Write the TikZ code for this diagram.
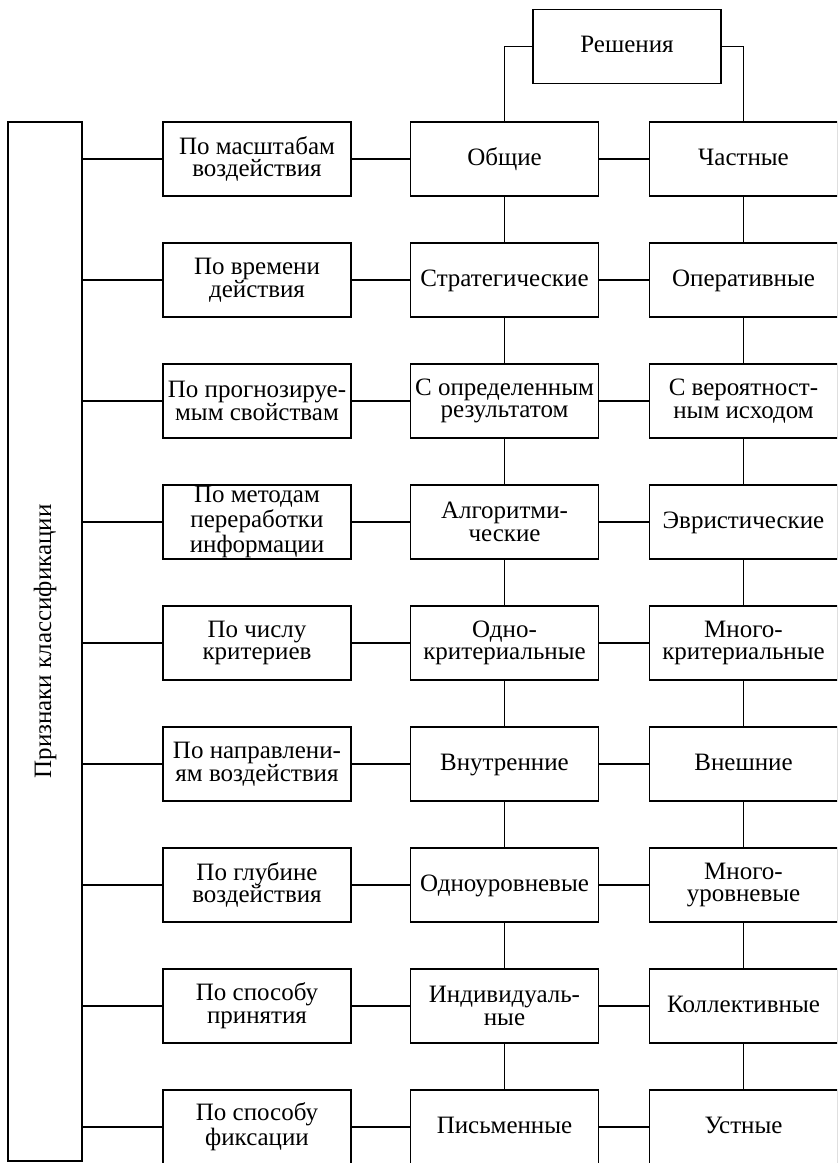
\documentclass[tikz,border=0pt]{standalone}
\usepackage{fontspec}
\setmainfont{Liberation Serif}
\begin{document}
\begin{tikzpicture}[x=0.5pt,y=-0.5pt,
  txt/.style={font=\fontsize{12.5}{11.3}\selectfont},
  box/.style={draw, line width=0.75pt, minimum width=94pt, minimum height=37pt,
    align=center, inner sep=0pt, txt},
  one/.style={box, text height=8.5pt, text depth=2.5pt},
  tight/.style={font=\fontsize{12.5}{10.5}\selectfont},
  link/.style={line width=0.75pt}]
\useasboundingbox (0,0) rectangle (837,1163);
\clip (0,0) rectangle (837,1163);

% side bar with the classification criteria caption
\node[draw, line width=0.75pt, minimum width=37pt, minimum height=519.5pt, inner sep=0pt] (side) at (45,641.5) {};
\node[rotate=90, txt] (sidetext) at (side) {Признаки классификации};

% root
\node[one] (root) at (627,46.5) {Решения};

% column of criteria
\node[box] (a1) at (257,159) {По масштабам\\воздействия};
\node[box] (a2) at (257,280) {По времени\\действия};
\node[box] (a3) at (257,401) {По прогнозируе-\\мым свойствам};
\node[box, tight] (a4) at (257,522) {По методам\\переработки\\информации};
\node[box] (a5) at (257,643) {По числу\\критериев};
\node[box] (a6) at (257,764) {По направлени-\\ям воздействия};
\node[box] (a7) at (257,885) {По глубине\\воздействия};
\node[box] (a8) at (257,1006) {По способу\\принятия};
\node[box] (a9) at (257,1127) {По способу\\фиксации};

% first kind of decision
\node[one] (b1) at (504.5,159) {Общие};
\node[one] (b2) at (504.5,280) {Стратегические};
\node[box] (b3) at (504.5,401) {С определенным\\результатом};
\node[box] (b4) at (504.5,522) {Алгоритми-\\ческие};
\node[box] (b5) at (504.5,643) {Одно-\\критериальные};
\node[one] (b6) at (504.5,764) {Внутренние};
\node[one] (b7) at (504.5,885) {Одноуровневые};
\node[box] (b8) at (504.5,1006) {Индивидуаль-\\ные};
\node[one] (b9) at (504.5,1127) {Письменные};

% second kind of decision
\node[one] (c1) at (743.5,159) {Частные};
\node[one] (c2) at (743.5,280) {Оперативные};
\node[box] (c3) at (743.5,401) {С вероятност-\\ным исходом};
\node[one] (c4) at (743.5,522) {Эвристические};
\node[box] (c5) at (743.5,643) {Много-\\критериальные};
\node[one] (c6) at (743.5,764) {Внешние};
\node[box] (c7) at (743.5,885) {Много-\\уровневые};
\node[one] (c8) at (743.5,1006) {Коллективные};
\node[one] (c9) at (743.5,1127) {Устные};

% connectors
\draw[link] (root.west) -| (b1.north);
\draw[link] (root.east) -| (c1.north);
\foreach \i in {1,...,9} {
  \draw[link] (side.east |- a\i) -- (a\i.west);
  \draw[link] (a\i.east) -- (b\i.west);
  \draw[link] (b\i.east) -- (c\i.west);
}
\foreach \i [evaluate=\i as \j using int(\i+1)] in {1,...,8} {
  \draw[link] (b\i.south) -- (b\j.north);
  \draw[link] (c\i.south) -- (c\j.north);
}
\end{tikzpicture}
\end{document}
